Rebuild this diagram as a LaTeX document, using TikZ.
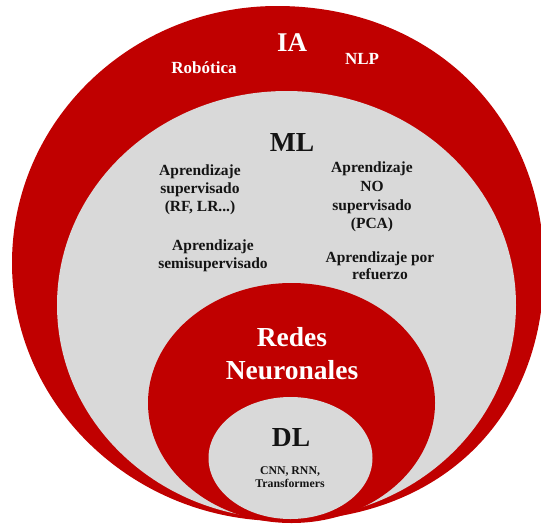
\documentclass[tikz,border=0pt]{standalone}
\usepackage{fontspec}
\setmainfont{Liberation Serif}
\usetikzlibrary{positioning}

\definecolor{iared}{HTML}{C00000}
\definecolor{mlgray}{HTML}{D9D9D9}
\definecolor{txtdark}{HTML}{141414}

\begin{document}
\begin{tikzpicture}[x=1pt, y=-1pt,
    onred/.style={text=white, align=center, inner sep=0pt},
    ongray/.style={text=txtdark, align=center, inner sep=0pt}]
    \useasboundingbox (0,0) rectangle (541,523);
    \clip (0,0) rectangle (541,523);

    % nested sets (the outer one is a bit fuller at the lower right)
    \fill[iared] (277,6) .. controls (432,6) and (544,116) .. (544,268)
        .. controls (544,420) and (439,521) .. (281,521)
        .. controls (133,521) and (12,405) .. (12,263)
        .. controls (12,121) and (131,6) .. cycle;
    \fill[mlgray] (286.5,305) ellipse [x radius=229.5, y radius=214];
    \fill[iared]  (291.5,403) ellipse [x radius=143.5, y radius=120];
    \fill[mlgray] (290.5,458) ellipse [x radius=82,    y radius=61];

    % IA
    \node[onred, font={\fontsize{27}{30}\selectfont\bfseries}] (ia) at (292,43) {IA};
    \node[onred, font={\fontsize{17}{20}\selectfont\bfseries}] (robotica) at (204,68) {Robótica};
    \node[onred, font={\fontsize{17}{20}\selectfont\bfseries}] (nlp) at (362,59) {NLP};

    % ML
    \node[ongray, font={\fontsize{27.5}{30}\selectfont\bfseries}] (ml) at (292,142) {ML};
    \node[ongray, font={\fontsize{15.5}{18.2}\selectfont\bfseries}] (sup) at (200,190)
        {Aprendizaje\\supervisado\\(RF, LR...)};
    \node[ongray, font={\fontsize{15.5}{18.7}\selectfont\bfseries}] (nosup) at (372,197)
        {Aprendizaje\\NO\\supervisado\\(PCA)};
    \node[ongray, font={\fontsize{15.5}{18}\selectfont\bfseries}] (semi) at (213,256)
        {Aprendizaje\\semisupervisado};
    \node[ongray, font={\fontsize{15.5}{17.5}\selectfont\bfseries}] (refuerzo) at (380,265.5)
        {Aprendizaje por\\refuerzo};

    % redes neuronales
    \node[onred, font={\fontsize{27.5}{33}\selectfont\bfseries}] (redes) at (292,353.5)
        {Redes\\Neuronales};

    % DL
    \node[ongray, font={\fontsize{27.5}{30}\selectfont\bfseries}] (dl) at (291,438) {DL};
    \node[ongray, font={\fontsize{11.8}{13.5}\selectfont\bfseries}] (dlex) at (290,477)
        {CNN, RNN,\\Transformers};
\end{tikzpicture}
\end{document}
